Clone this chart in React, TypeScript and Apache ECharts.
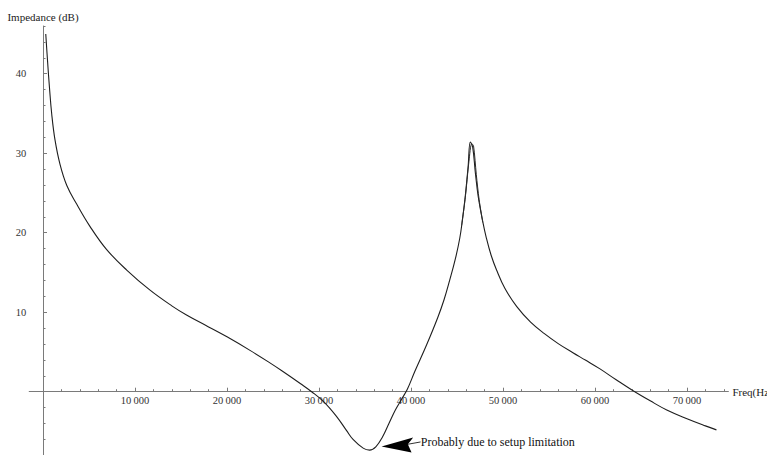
import React, { useEffect, useRef } from "react";
import * as echarts from "echarts";

// Measured impedance curve (frequency in Hz, impedance in dB)
const freqHz = [
  300, 500, 700, 950, 1300, 1850, 2600, 3660, 5100, 6900, 9100, 11600, 14000,
  15600, 18000, 20000, 22500, 24500, 26000, 28000, 29200, 30500, 31900, 33000,
  33700, 34800, 35500, 36200, 36900, 37600, 38300, 39000, 39600, 40400, 41700,
  42900, 43600, 44200, 44800, 45300, 45600, 45900, 46200, 46450, 46700, 47000,
  47300, 47800, 48200, 48700, 49300, 50200, 51500, 53000, 54500, 56000, 57600,
  59000, 60500, 62300, 64100, 66000, 67800, 70000, 72000, 73200,
];
const impedanceDb = [
  45.0, 41.5, 38.3, 34.9, 31.7, 28.6, 25.9, 23.6, 20.8, 17.9, 15.3, 12.8, 10.8,
  9.65, 8.15, 6.9, 5.2, 3.75, 2.6, 1.0, 0.0, -1.25, -3.1, -4.9,
  -6.0, -7.1, -7.35, -6.9, -5.7, -4.0, -2.3, -0.9, 0.3, 2.5, 5.9,
  9.3, 11.6, 14.0, 16.6, 19.3, 21.7, 24.6, 28.2, 31.4, 30.8, 27.5,
  24.6, 21.4, 19.3, 17.2, 15.3, 13.0, 10.7, 8.75, 7.3, 6.05, 4.9,
  3.95, 2.9, 1.5, 0.15, -1.15, -2.3, -3.4, -4.3, -4.8,
];

// Second trace, visible only around the resonance peak
const freqHz2 = [45500, 45900, 46300, 46600, 46800, 47100, 47400, 47800];
const impedanceDb2 = [20.9, 24.4, 29.0, 31.2, 30.9, 27.3, 24.2, 21.3];

// Axis ticks
const xMajorTicks = [10000, 20000, 30000, 40000, 50000, 60000, 70000];
const xMinorTicks = [
  2000, 4000, 6000, 8000, 12000, 14000, 16000, 18000, 22000, 24000, 26000,
  28000, 32000, 34000, 36000, 38000, 42000, 44000, 46000, 48000, 52000, 54000,
  56000, 58000, 62000, 64000, 66000, 68000, 72000, 74000,
];
const yMajorTicks = [10, 20, 30, 40];
const yMinorTicks = [
  -6, -4, -2, 2, 4, 6, 8, 12, 14, 16, 18, 22, 24, 26, 28, 32, 34, 36, 38, 42,
  44, 46,
];

const annotationText = "Probably due to setup limitation";
const annotationTip = [36800, -6.9];

const FONT = "'Liberation Serif', 'DejaVu Serif', serif";

export default function App() {
  const ref = useRef<HTMLDivElement>(null);

  useEffect(() => {
    if (!ref.current) return;
    const chart = echarts.init(ref.current, undefined, { renderer: "svg" });

    const X_MIN = -1500;
    const X_MAX = 74500;
    const Y_MIN = -8;
    const Y_MAX = 46;
    const GRID_H = 429.3;
    const gridBox = {
      left: 29.2,
      top: 26,
      width: 699.2,
      height: GRID_H,
      containLabel: false,
      outerBoundsMode: "none",
    };
    // grid whose bottom edge is the zero line (for x tick labels)
    const upperBox = {
      ...gridBox,
      height: (GRID_H * Y_MAX) / (Y_MAX - Y_MIN),
    };

    const axisLineStyle = { color: "#7a7a7a", width: 1 };
    const labelStyle = {
      fontFamily: FONT,
      fontSize: 10.5,
      color: "#333",
    };

    chart.setOption({
      animation: false,
      backgroundColor: "#ffffff",
      grid: [{ ...gridBox }, { ...gridBox }, { ...upperBox }],
      xAxis: [
        {
          type: "value",
          gridIndex: 0,
          min: X_MIN,
          max: X_MAX,
          name: "Freq(Hz)",
          nameLocation: "end",
          nameGap: 4,
          nameTextStyle: { fontFamily: FONT, fontSize: 11, color: "#222" },
          axisLine: { show: true, onZero: true, lineStyle: axisLineStyle },
          axisTick: { show: false },
          axisLabel: { show: false },
          splitLine: { show: false },
        },
        {
          type: "value",
          gridIndex: 1,
          min: X_MIN,
          max: X_MAX,
          axisLine: { show: false, onZero: true },
          axisTick: {
            show: true,
            inside: true,
            length: 2.5,
            customValues: xMinorTicks,
            lineStyle: axisLineStyle,
          },
          axisLabel: { show: false },
          splitLine: { show: false },
        },
        {
          type: "value",
          gridIndex: 2,
          position: "bottom",
          min: X_MIN,
          max: X_MAX,
          axisLine: { show: false, onZero: false },
          axisTick: {
            show: true,
            inside: true,
            length: 4,
            customValues: xMajorTicks,
            lineStyle: axisLineStyle,
          },
          axisLabel: {
            show: true,
            customValues: xMajorTicks,
            margin: 3,
            ...labelStyle,
            formatter: (v: number) => Math.round(v / 1000) + "\u2009000",
          },
          splitLine: { show: false },
        },
      ],
      yAxis: [
        {
          type: "value",
          gridIndex: 0,
          min: Y_MIN,
          max: Y_MAX,
          name: "Impedance (dB)",
          nameLocation: "end",
          nameGap: 4,
          nameTextStyle: { fontFamily: FONT, fontSize: 11, color: "#222" },
          axisLine: { show: true, onZero: true, lineStyle: axisLineStyle },
          axisTick: {
            show: true,
            inside: true,
            length: 4,
            customValues: yMajorTicks,
            lineStyle: axisLineStyle,
          },
          axisLabel: {
            show: true,
            customValues: yMajorTicks,
            margin: 3,
            ...labelStyle,
          },
          splitLine: { show: false },
        },
        {
          type: "value",
          gridIndex: 1,
          min: Y_MIN,
          max: Y_MAX,
          axisLine: { show: false, onZero: true },
          axisTick: {
            show: true,
            inside: true,
            length: 2.5,
            customValues: yMinorTicks,
            lineStyle: axisLineStyle,
          },
          axisLabel: { show: false },
          splitLine: { show: false },
        },
        {
          type: "value",
          gridIndex: 2,
          min: 0,
          max: Y_MAX,
          show: false,
        },
      ],
      series: [
        {
          type: "line",
          xAxisIndex: 0,
          yAxisIndex: 0,
          data: freqHz.map((f, i) => [f, impedanceDb[i]]),
          showSymbol: false,
          symbol: "none",
          smooth: 0.4,
          lineStyle: { color: "#1e1e1e", width: 1.1 },
          silent: true,
        },
        {
          type: "line",
          xAxisIndex: 0,
          yAxisIndex: 0,
          data: freqHz2.map((f, i) => [f, impedanceDb2[i]]),
          showSymbol: false,
          symbol: "none",
          smooth: 0.3,
          lineStyle: { color: "#2a2a2a", width: 1 },
          silent: true,
        },
      ],
    });

    const tip = chart.convertToPixel({ gridIndex: 0 }, annotationTip) as number[];
    const tx = tip[0];
    const ty = tip[1];
    chart.setOption({
      graphic: [
        {
          type: "polygon",
          shape: {
            points: [
              [tx, ty],
              [tx + 31.6, ty - 9],
              [tx + 26.3, ty - 2.3],
              [tx + 30, ty + 6],
            ],
          },
          style: { fill: "#000" },
          silent: true,
        },
        {
          type: "line",
          shape: { x1: tx + 26.3, y1: ty - 2.3, x2: tx + 39, y2: ty - 4.6 },
          style: { stroke: "#333", lineWidth: 1 },
          silent: true,
        },
        {
          type: "text",
          x: tx + 39.3,
          y: ty - 5,
          style: {
            text: annotationText,
            fontFamily: FONT,
            fontSize: 12,
            fill: "#111",
            textAlign: "left",
            textVerticalAlign: "middle",
          },
          silent: true,
        },
      ],
    });

    return () => chart.dispose();
  }, []);

  return (
    <div
      ref={ref}
      style={{
        position: "fixed",
        left: 0,
        top: 0,
        width: 767,
        height: 455,
        background: "#fff",
      }}
    />
  );
}
